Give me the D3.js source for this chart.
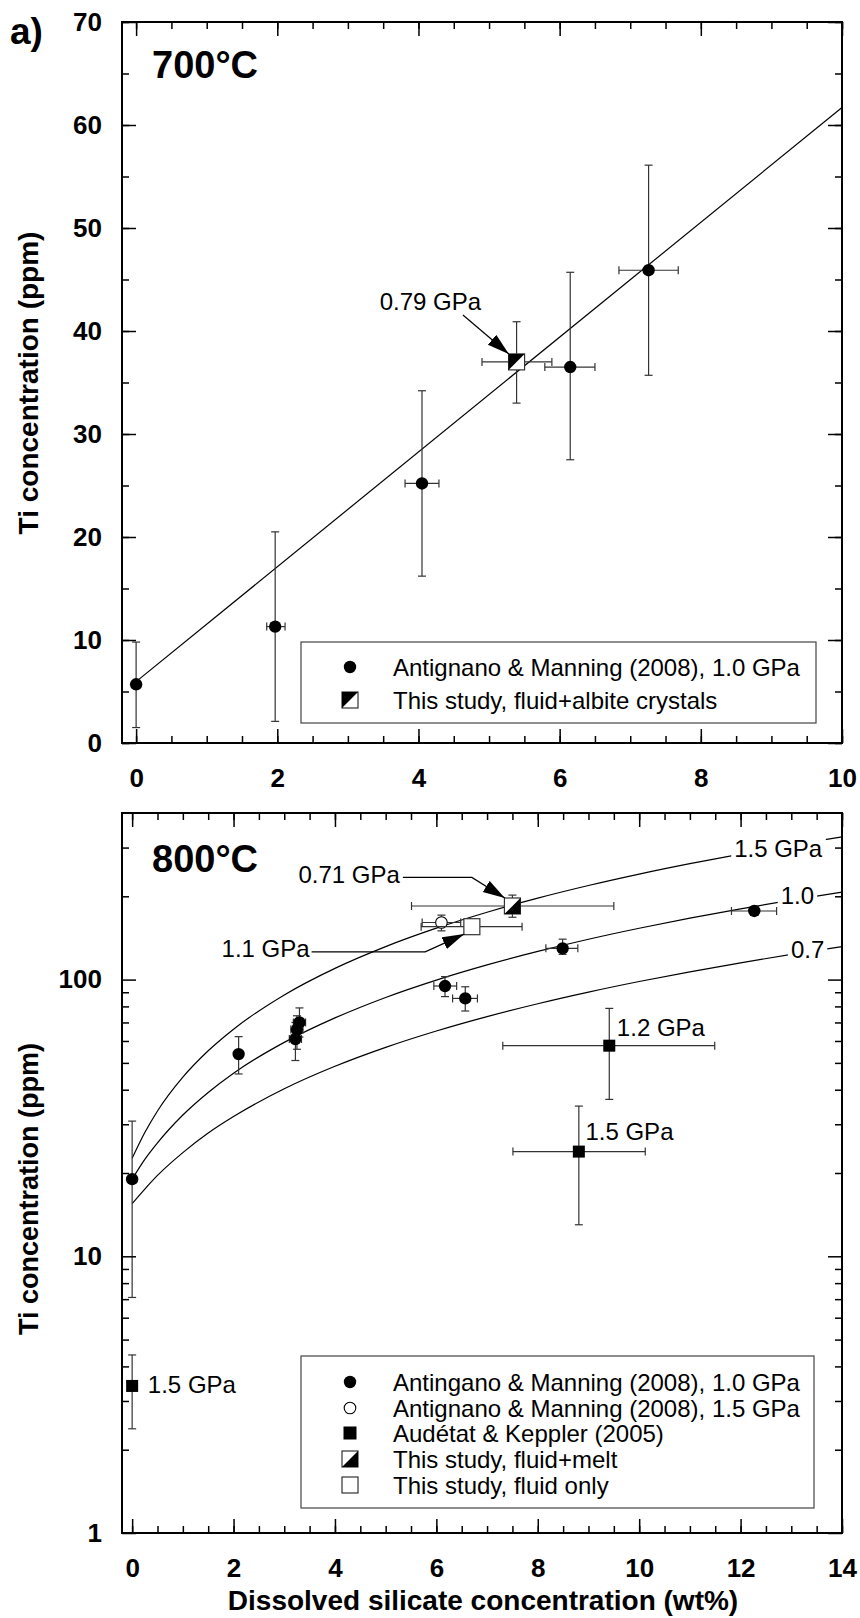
<!DOCTYPE html>
<html>
<head>
<meta charset="utf-8">
<script src="https://cdn.jsdelivr.net/npm/d3@7"></script>
<style>
  body { margin: 0; background: #fff; }
  svg { display: block; font-family: "Liberation Sans", Arial, sans-serif; }
</style>
</head>
<body>
<svg id="chart" width="860" height="1618"></svg>
<script>
// ---------- panel a, 700 C ----------
const amA_x   = [0, 1.97, 4.05, 6.15, 7.26];
const amA_y   = [5.7, 11.3, 25.2, 36.5, 45.9];
const amA_yLo = [1.5, 2.1, 16.2, 27.5, 35.7];
const amA_yHi = [9.8, 20.5, 34.2, 45.7, 56.1];
const amA_xLo = [0, 1.85, 3.81, 5.79, 6.84];
const amA_xHi = [0, 2.11, 4.29, 6.50, 7.68];

const studyA_x = [5.39], studyA_y = [37.0];
const studyA_xLo = [4.90], studyA_xHi = [5.89];
const studyA_yLo = [33.0], studyA_yHi = [40.9];

const fitA_x = [0, 10];
const fitA_y = [5.96, 61.7];

const arrowA = [[4.63, 41.55], [5.28, 37.77]];

// ---------- panel b, 800 C ----------
const am10_x   = [0, 2.10, 3.22, 3.25, 3.30, 6.17, 6.57, 8.49, 12.27];
const am10_y   = [19.0, 53.8, 61, 66, 70, 94.8, 85.5, 129.7, 177];
const am10_yLo = [7.1, 45.6, 51, 56, 62, 86.8, 77, 123.4, 171];
const am10_yHi = [30.8, 62.2, 70, 74, 79, 102.5, 94.2, 140, 183];
const am10_xLo = [0, 2.10, 3.10, 3.13, 3.18, 5.95, 6.32, 8.16, 11.82];
const am10_xHi = [0, 2.10, 3.34, 3.37, 3.42, 6.40, 6.81, 8.79, 12.71];

const am15_x = [6.10], am15_y = [160.8];
const am15_xLo = [5.72], am15_xHi = [6.48];
const am15_yLo = [150], am15_yHi = [171];

const ak_x   = [9.41, 8.81, 0];
const ak_y   = [57.7, 23.9, 3.40];
const ak_xLo = [7.31, 7.51, 0];
const ak_xHi = [11.49, 10.12, 0];
const ak_yLo = [36.9, 13.0, 2.38];
const ak_yHi = [78.7, 34.9, 4.40];
const ak_lab = ['1.2 GPa', '1.5 GPa', '1.5 GPa'];
const ak_labX = [9.56, 8.94, 0.31];
const ak_labY = [62.5, 26.3, 3.21];

const melt_x = [7.50], melt_y = [184.5];
const melt_xLo = [5.51], melt_xHi = [9.50];
const melt_yLo = [168], melt_yHi = [202];

const fluid_x = [6.70], fluid_y = [155.3];
const fluid_xLo = [5.70], fluid_xHi = [7.69];
const fluid_yLo = [146], fluid_yHi = [165];

// isobars
const curveX = [0, 0.25, 0.5, 1, 1.5, 2, 3, 4, 5, 6, 7, 8, 9, 10, 11, 12, 13, 14];
const c15 = [22.6, 28.0, 33.5, 44.4, 55.3, 66.2, 88.0, 109.8, 131.6, 153.4, 175.2, 197.0, 218.8, 240.6, 262.4, 284.2, 306.0, 327.8];
const c10 = [19.0, 22.4, 25.7, 32.4, 39.1, 45.9, 59.3, 72.7, 86.2, 99.6, 113.0, 126.4, 139.9, 153.3, 166.7, 180.2, 193.6, 207.0];
const c07 = [15.5, 17.5, 19.6, 23.7, 27.9, 32.0, 40.3, 48.6, 56.9, 65.2, 73.5, 81.8, 90.1, 98.4, 106.7, 115.0, 123.3, 131.6];
const curveLab  = ['1.5 GPa', '1.0', '0.7'];
const curveLabX = [13.61, 13.45, 13.65];
const curveLabY = [278, 187.6, 119.4];

const lead071 = [[5.34, 234], [6.70, 234], [7.35, 197]];
const lead11  = [[3.54, 126], [5.78, 126], [6.55, 146]];

// ticks
const xTicksA = [0, 2, 4, 6, 8, 10];
const yTicksA = [0, 10, 20, 30, 40, 50, 60, 70];
const xTicksB = [0, 2, 4, 6, 8, 10, 12, 14];
const yTicksB = [1, 10, 100];
const yMinorB = [2, 3, 4, 5, 6, 7, 8, 9, 20, 30, 40, 50, 60, 70, 80, 90, 200, 300];

const legendA = [
  ['dot', 'Antignano & Manning (2008), 1.0 GPa'],
  ['halfUL', 'This study, fluid+albite crystals']
];
const legendB = [
  ['dot', 'Antingano & Manning (2008), 1.0 GPa'],
  ['ring', 'Antignano & Manning (2008), 1.5 GPa'],
  ['sq', 'Audétat & Keppler (2005)'],
  ['halfLR', 'This study, fluid+melt'],
  ['open', 'This study, fluid only']
];

// ---------------------------------------------------
const svg = d3.select('#chart');
const left = 122, right = 842;

const xA = d3.scaleLinear().domain([-0.2, 10]).range([left, right]);
const yA = d3.scaleLinear().domain([0, 70]).range([743, 22]);
const xB = d3.scaleLinear().domain([-0.2, 14]).range([left, right]);
const yB = d3.scaleLog().domain([1, 400]).range([1533, 813]);

svg.append('defs').append('marker')
    .attr('id', 'head')
    .attr('markerUnits', 'userSpaceOnUse')
    .attr('markerWidth', 23).attr('markerHeight', 14)
    .attr('refX', 22).attr('refY', 6.5)
    .attr('orient', 'auto')
  .append('path')
    .attr('d', 'M0,0 L22,6.5 L0,13 Z')
    .attr('fill', '#000');

const zip = (xs, ys, xl, xh, yl, yh) =>
  xs.map((v, i) => ({x: v, y: ys[i], xLo: xl[i], xHi: xh[i], yLo: yl[i], yHi: yh[i]}));

function styleAxis(sel, labelSize) {
  sel.select('.domain').remove();
  sel.selectAll('line').attr('stroke', '#000').attr('stroke-width', 1.5);
  sel.selectAll('text')
    .attr('font-family', '"Liberation Sans", Arial, sans-serif')
    .attr('font-size', labelSize).attr('font-weight', 'bold').attr('fill', '#000');
}

function frame(g, x, y, xMaj, xMin, yMaj, yMin, yFmt) {
  const [x0, x1] = x.range();
  const [y1, y0] = y.range();
  const big = 14, small = 7, fs = 26;
  const add = (axis, tr) => g.append('g').attr('transform', tr).call(axis.tickSizeOuter(0));

  add(d3.axisBottom(x).tickValues(xMin).tickSize(-small).tickFormat(''), `translate(0,${y1})`).call(styleAxis, fs);
  add(d3.axisBottom(x).tickValues(xMaj).tickSize(-big).tickPadding(26).tickFormat(d3.format('d')), `translate(0,${y1})`).call(styleAxis, fs);
  add(d3.axisTop(x).tickValues(xMin).tickSize(-small).tickFormat(''), `translate(0,${y0})`).call(styleAxis, fs);
  add(d3.axisTop(x).tickValues(xMaj).tickSize(-big).tickFormat(''), `translate(0,${y0})`).call(styleAxis, fs);

  add(d3.axisLeft(y).tickValues(yMin).tickSize(-small).tickFormat(''), `translate(${x0},0)`).call(styleAxis, fs);
  add(d3.axisLeft(y).tickValues(yMaj).tickSize(-big).tickPadding(20).tickFormat(yFmt), `translate(${x0},0)`).call(styleAxis, fs);
  add(d3.axisRight(y).tickValues(yMin).tickSize(-small).tickFormat(''), `translate(${x1},0)`).call(styleAxis, fs);
  add(d3.axisRight(y).tickValues(yMaj).tickSize(-big).tickFormat(''), `translate(${x1},0)`).call(styleAxis, fs);

  g.append('rect')
    .attr('x', x0).attr('y', y0)
    .attr('width', x1 - x0).attr('height', y1 - y0)
    .attr('fill', 'none').attr('stroke', '#000').attr('stroke-width', 2);
}

function errorBars(g, x, y, pts) {
  const c = 4;
  const eb = g.append('g').attr('stroke', '#333').attr('stroke-width', 1.2);
  pts.forEach(p => {
    const px = x(p.x), py = y(p.y);
    if (p.yLo !== p.yHi) {
      eb.append('line').attr('x1', px).attr('x2', px).attr('y1', y(p.yLo)).attr('y2', y(p.yHi));
      [p.yLo, p.yHi].forEach(v =>
        eb.append('line').attr('x1', px - c).attr('x2', px + c).attr('y1', y(v)).attr('y2', y(v)));
    }
    if (p.xLo !== p.xHi) {
      eb.append('line').attr('x1', x(p.xLo)).attr('x2', x(p.xHi)).attr('y1', py).attr('y2', py);
      [p.xLo, p.xHi].forEach(v =>
        eb.append('line').attr('x1', x(v)).attr('x2', x(v)).attr('y1', py - c).attr('y2', py + c));
    }
  });
}

function marker(g, type, cx, cy, big) {
  if (type === 'dot') {
    g.append('circle').attr('cx', cx).attr('cy', cy).attr('r', 6.2).attr('fill', '#000');
  } else if (type === 'ring') {
    g.append('circle').attr('cx', cx).attr('cy', cy).attr('r', 5.8)
      .attr('fill', '#fff').attr('stroke', '#000').attr('stroke-width', 1.1);
  } else if (type === 'sq') {
    const s = big ? 13 : 12;
    g.append('rect').attr('x', cx - s / 2).attr('y', cy - s / 2).attr('width', s).attr('height', s).attr('fill', '#000');
  } else {
    const h = 8;
    g.append('rect').attr('x', cx - h).attr('y', cy - h).attr('width', 2 * h).attr('height', 2 * h)
      .attr('fill', '#fff').attr('stroke', '#333').attr('stroke-width', 1.2);
    if (type === 'halfUL') {
      g.append('path').attr('d', `M${cx - h},${cy - h}L${cx + h},${cy - h}L${cx - h},${cy + h}Z`).attr('fill', '#000');
    } else if (type === 'halfLR') {
      g.append('path').attr('d', `M${cx + h},${cy - h}L${cx + h},${cy + h}L${cx - h},${cy + h}Z`).attr('fill', '#000');
    }
  }
}

function series(g, x, y, pts, type) {
  errorBars(g, x, y, pts);
  pts.forEach(p => marker(g, type, x(p.x), y(p.y)));
}

function legend(g, items, box, rowY) {
  g.append('rect')
    .attr('x', box[0]).attr('y', box[1]).attr('width', box[2]).attr('height', box[3])
    .attr('fill', '#fff').attr('stroke', '#444').attr('stroke-width', 1.2);
  items.forEach((it, i) => {
    marker(g, it[0], 350, rowY[i], true);
    g.append('text').attr('x', 393).attr('y', rowY[i]).attr('dy', '0.36em')
      .attr('font-size', 24).text(it[1]);
  });
}

function label(g, txt, x, y, size, weight, anchor) {
  return g.append('text').attr('x', x).attr('y', y)
    .attr('font-size', size).attr('font-weight', weight || 'normal')
    .attr('text-anchor', anchor || 'start').text(txt);
}

function leader(g, pts, x, y) {
  g.append('path')
    .attr('d', d3.line().x(d => x(d[0])).y(d => y(d[1]))(pts))
    .attr('fill', 'none').attr('stroke', '#000').attr('stroke-width', 1.2)
    .attr('marker-end', 'url(#head)');
}

// ---------- draw panel a ----------
const gA = svg.append('g');

gA.append('path')
  .attr('d', d3.line().x(d => xA(d[0])).y(d => yA(d[1]))(fitA_x.map((v, i) => [v, fitA_y[i]])))
  .attr('fill', 'none').attr('stroke', '#000').attr('stroke-width', 1.2);

series(gA, xA, yA, zip(amA_x, amA_y, amA_xLo, amA_xHi, amA_yLo, amA_yHi), 'dot');
series(gA, xA, yA, zip(studyA_x, studyA_y, studyA_xLo, studyA_xHi, studyA_yLo, studyA_yHi), 'halfUL');

leader(gA, arrowA, xA, yA);
label(gA, '0.79 GPa', xA(3.45), yA(42.04), 24);

legend(gA, legendA, [301, 642, 515, 81], [667, 700]);

frame(gA, xA, yA, xTicksA, d3.range(0, 10.01, 0.5), yTicksA, d3.range(0, 70.01, 5), d3.format('d'));

label(gA, 'a)', 10, 44, 37, 'bold');
label(gA, '700°C', 152, 78, 38, 'bold');
gA.append('text')
  .attr('transform', 'translate(38,383) rotate(-90)')
  .attr('text-anchor', 'middle').attr('font-size', 28).attr('font-weight', 'bold')
  .text('Ti concentration (ppm)');

// ---------- draw panel b ----------
const gB = svg.append('g');

const isoLine = d3.line().x(d => xB(d[0])).y(d => yB(d[1])).curve(d3.curveMonotoneX);
[c15, c10, c07].forEach(c => {
  gB.append('path')
    .attr('d', isoLine(curveX.map((v, i) => [v, c[i]])))
    .attr('fill', 'none').attr('stroke', '#000').attr('stroke-width', 1.2);
});

curveLab.forEach((t, i) => {
  const txt = label(gB, t, xB(curveLabX[i]), yB(curveLabY[i]), 24, 'normal', 'end');
  const bb = txt.node().getBBox();
  gB.insert('rect', () => txt.node())
    .attr('x', bb.x - 3).attr('y', bb.y + 2).attr('width', bb.width + 6).attr('height', bb.height - 4)
    .attr('fill', '#fff');
});

series(gB, xB, yB, zip(am10_x, am10_y, am10_xLo, am10_xHi, am10_yLo, am10_yHi), 'dot');
series(gB, xB, yB, zip(am15_x, am15_y, am15_xLo, am15_xHi, am15_yLo, am15_yHi), 'ring');
series(gB, xB, yB, zip(ak_x, ak_y, ak_xLo, ak_xHi, ak_yLo, ak_yHi), 'sq');
series(gB, xB, yB, zip(fluid_x, fluid_y, fluid_xLo, fluid_xHi, fluid_yLo, fluid_yHi), 'open');
series(gB, xB, yB, zip(melt_x, melt_y, melt_xLo, melt_xHi, melt_yLo, melt_yHi), 'halfLR');

ak_lab.forEach((t, i) => label(gB, t, xB(ak_labX[i]), yB(ak_labY[i]), 24));

leader(gB, lead071, xB, yB);
leader(gB, lead11, xB, yB);
label(gB, '0.71 GPa', xB(5.28), yB(223.4), 24, 'normal', 'end');
label(gB, '1.1 GPa', xB(3.50), yB(121.0), 24, 'normal', 'end');

legend(gB, legendB, [301, 1356, 513, 152], [1382, 1408, 1433, 1459, 1485]);

frame(gB, xB, yB, xTicksB, d3.range(0, 14.01, 0.5), yTicksB, yMinorB, d3.format('d'));

label(gB, '800°C', 152, 872, 38, 'bold');
gB.append('text')
  .attr('transform', 'translate(38,1189) rotate(-90)')
  .attr('text-anchor', 'middle').attr('font-size', 27).attr('font-weight', 'bold')
  .text('Ti concentration (ppm)');
label(gB, 'Dissolved silicate concentration (wt%)', 483, 1610, 28, 'bold', 'middle');
</script>
</body>
</html>
